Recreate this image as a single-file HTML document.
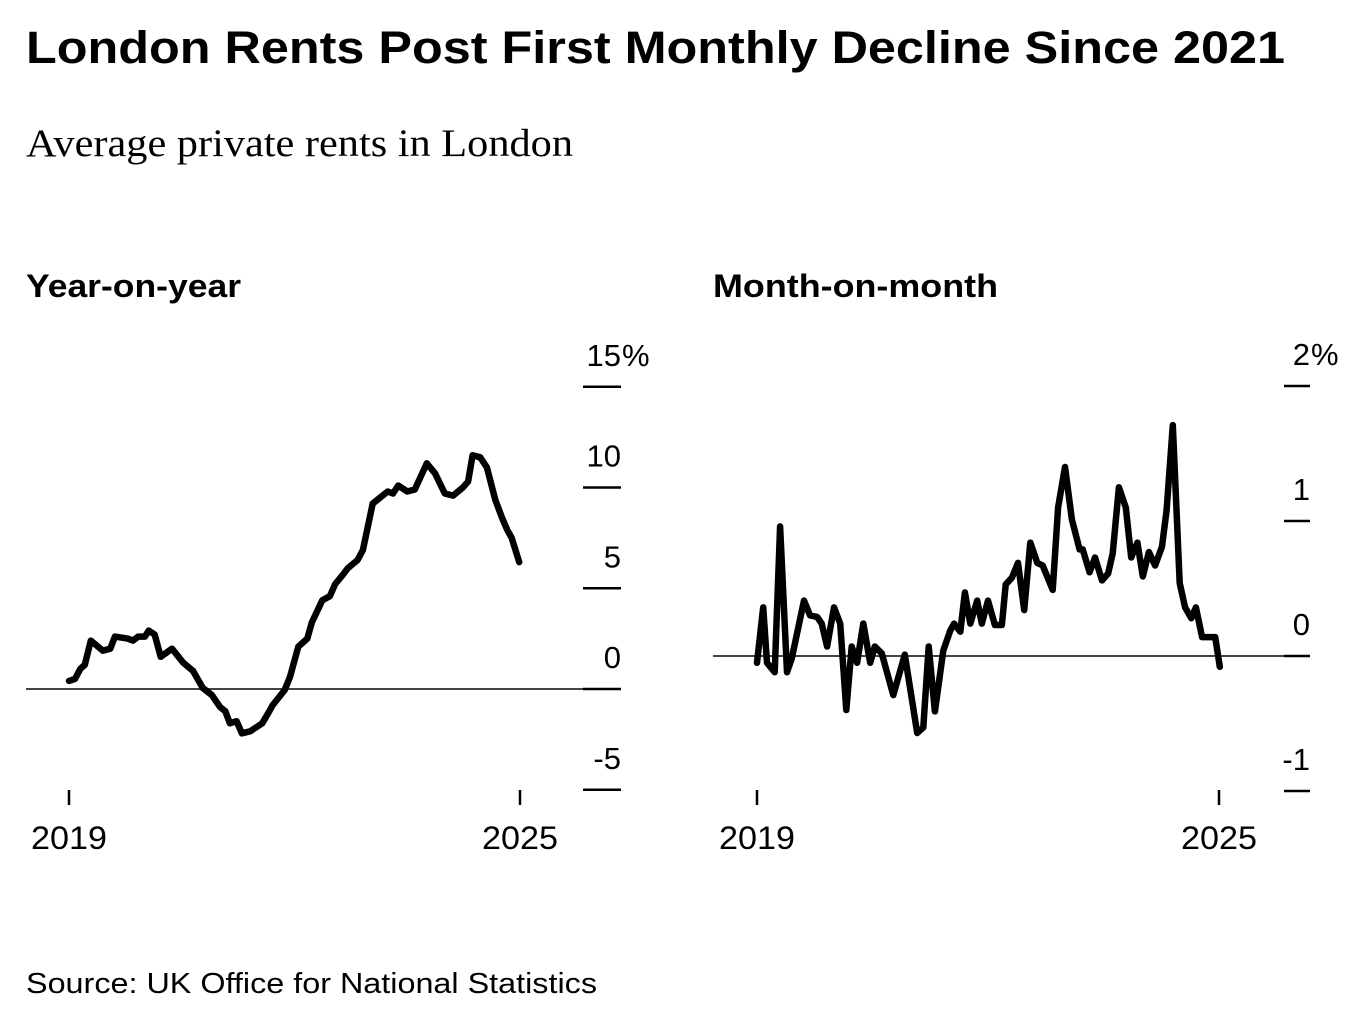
<!DOCTYPE html>
<html><head><meta charset="utf-8"><style>
html,body{margin:0;padding:0;background:#fff;}
body{width:1354px;height:1008px;overflow:hidden;position:relative;font-family:"Liberation Sans",Arial,sans-serif;}
</style></head><body>
<svg width="1354" height="1008" xmlns="http://www.w3.org/2000/svg">
<text x="26" y="63" font-family="Liberation Sans, sans-serif" font-weight="bold" font-size="45" textLength="1259" lengthAdjust="spacingAndGlyphs" fill="#000">London Rents Post First Monthly Decline Since 2021</text>
<text x="26" y="156" font-family="Liberation Serif, serif" font-size="39" textLength="547" lengthAdjust="spacingAndGlyphs" fill="#000">Average private rents in London</text>
<text x="26" y="297" font-weight="bold" font-size="32" textLength="215" lengthAdjust="spacingAndGlyphs" fill="#000">Year-on-year</text>
<text x="713" y="297" font-weight="bold" font-size="32" textLength="285" lengthAdjust="spacingAndGlyphs" fill="#000">Month-on-month</text>
<g id="left"></g>
<g id="right"></g>
<text x="26" y="993" font-size="29" textLength="571" lengthAdjust="spacingAndGlyphs" fill="#000">Source: UK Office for National Statistics</text>
</svg>
<script>
const yoyYears=[2019.0,2019.08,2019.15,2019.21,2019.29,2019.45,2019.55,2019.61,2019.78,2019.85,2019.92,2020.01,2020.06,2020.14,2020.22,2020.37,2020.52,2020.65,2020.78,2020.9,2021.01,2021.08,2021.14,2021.23,2021.3,2021.41,2021.57,2021.65,2021.71,2021.87,2021.94,2022.05,2022.17,2022.23,2022.37,2022.47,2022.54,2022.65,2022.71,2022.84,2022.91,2023.04,2023.14,2023.24,2023.31,2023.38,2023.5,2023.6,2023.76,2023.87,2024.0,2024.11,2024.24,2024.31,2024.37,2024.47,2024.56,2024.67,2024.76,2024.83,2024.89,2024.99];
const yoyValues=[0.4,0.5,1.0,1.2,2.4,1.9,2.0,2.6,2.5,2.4,2.6,2.6,2.9,2.7,1.6,2.0,1.3,0.9,0.05,-0.3,-0.9,-1.1,-1.7,-1.6,-2.2,-2.1,-1.7,-1.2,-0.8,-0.05,0.6,2.1,2.5,3.3,4.4,4.6,5.2,5.7,6.0,6.4,6.9,9.2,9.5,9.8,9.7,10.1,9.8,9.9,11.2,10.7,9.7,9.6,10.0,10.3,11.6,11.5,11.0,9.4,8.5,7.9,7.5,6.3];
const yoyTicks=[15,10,5,0,-5];
const yoyTickLabels=["15%","10","5","0","-5"];
const momYears=[2019.0,2019.08,2019.13,2019.23,2019.3,2019.39,2019.45,2019.61,2019.69,2019.78,2019.84,2019.91,2020.0,2020.08,2020.16,2020.23,2020.3,2020.38,2020.47,2020.53,2020.62,2020.77,2020.92,2021.08,2021.16,2021.23,2021.31,2021.42,2021.51,2021.56,2021.64,2021.7,2021.77,2021.86,2021.92,2022.0,2022.09,2022.18,2022.23,2022.31,2022.39,2022.47,2022.55,2022.64,2022.71,2022.84,2022.91,2023.0,2023.09,2023.19,2023.23,2023.32,2023.39,2023.48,2023.56,2023.62,2023.7,2023.79,2023.86,2023.94,2024.01,2024.09,2024.17,2024.26,2024.32,2024.4,2024.49,2024.56,2024.64,2024.7,2024.78,2024.95,2025.01];
const momValues=[-0.05,0.36,-0.05,-0.12,0.96,-0.12,-0.02,0.41,0.3,0.29,0.24,0.07,0.36,0.24,-0.4,0.07,-0.05,0.24,-0.05,0.07,0.02,-0.29,0.01,-0.57,-0.53,0.07,-0.41,0.04,0.19,0.24,0.18,0.47,0.24,0.41,0.24,0.41,0.23,0.23,0.53,0.58,0.69,0.34,0.84,0.69,0.67,0.49,1.1,1.4,1.01,0.79,0.79,0.62,0.73,0.56,0.61,0.76,1.25,1.1,0.73,0.84,0.59,0.77,0.67,0.81,1.08,1.71,0.54,0.36,0.28,0.36,0.14,0.14,-0.08];
const momTicks=[2,1,0,-1];
const momTickLabels=["2%","1","0","-1"];
const xTickYears=[2019,2025];
const xTickLabels=["2019","2025"];
const NS="http://www.w3.org/2000/svg";
function mk(tag,attrs,parent){const e=document.createElementNS(NS,tag);for(const k in attrs)e.setAttribute(k,attrs[k]);parent.appendChild(e);return e;}
function drawPanel(g,cfg,years,vals,ticks,labels,name){
  const xs=y=>cfg.x0+(y-2019)*(cfg.x1-cfg.x0)/6;
  const ys=v=>cfg.yZero-v*cfg.unit;
  let zl=mk('line',{x1:cfg.left,x2:cfg.tickR,y1:ys(0),y2:ys(0),stroke:'#444','stroke-width':2},g);
  
  
  ticks.forEach((t,i)=>{
    let l=mk('line',{x1:cfg.tickL,x2:cfg.tickR,y1:ys(t),y2:ys(t),stroke:'#000','stroke-width':2.5},g);
    
    
    const lab=labels[i];const pct=lab.endsWith('%');
    let tx=mk('text',{x:cfg.tickR,y:ys(t)-21,'font-size':31,'text-anchor':'end',fill:'#000'},g);
    tx.textContent=pct?lab.slice(0,-1):lab;
    
    
    if(pct){let p=mk('text',{x:cfg.tickR+1,y:ys(t)-21,'font-size':31,fill:'#000'},g);p.textContent='%';
      
      }
  });
  xTickYears.forEach((yv,i)=>{
    let l=mk('line',{x1:xs(yv),x2:xs(yv),y1:cfg.xTickY,y2:cfg.xTickY+15,stroke:'#000','stroke-width':2.5},g);
    
    
    let t=mk('text',{x:xs(yv),y:cfg.xTickY+59,'font-size':32,'text-anchor':'middle',textLength:76,lengthAdjust:'spacingAndGlyphs',fill:'#000'},g);
    t.textContent=xTickLabels[i];
    
    
  });
  const d=years.map((y,i)=>(i?'L':'M')+xs(y).toFixed(1)+','+ys(vals[i]).toFixed(1)).join(' ');
  let p=mk('path',{d:d,fill:'none',stroke:'#000','stroke-width':6.5,'stroke-linejoin':'round','stroke-linecap':'round'},g);
  
  
}
drawPanel(document.getElementById('left'),{x0:69,x1:520,yZero:689,unit:20.15,left:26,tickL:583,tickR:621,xTickY:790},yoyYears,yoyValues,yoyTicks,yoyTickLabels,'yoy');
drawPanel(document.getElementById('right'),{x0:757,x1:1219,yZero:656,unit:135,left:713,tickL:1284,tickR:1310,xTickY:790},momYears,momValues,momTicks,momTickLabels,'mom');
</script>
</body></html>
